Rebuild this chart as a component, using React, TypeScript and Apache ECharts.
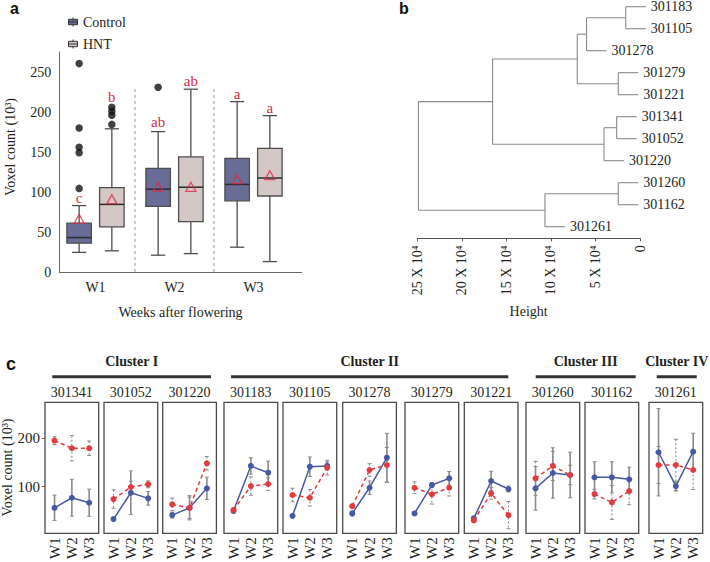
import React, { useEffect, useRef } from 'react';
import * as echarts from 'echarts';

const SERIF = '"Liberation Serif", "Times New Roman", serif';
const SANS = '"Liberation Sans", Arial, sans-serif';
const TXT = '#231f20';

// ---------------- Panel a: box plots ----------------
const weeks = ['W1', 'W2', 'W3'];
// [lower whisker, Q1, median, Q3, upper whisker]
const controlBox = [
  [24.5, 36, 43, 61, 83],
  [21, 82, 103.5, 129.5, 175.5],
  [31, 89, 109.5, 142, 213],
];
const hntBox = [
  [26.5, 56.5, 84.5, 105.5, 179],
  [23, 63, 106, 144, 228.5],
  [13, 95, 117.5, 154.5, 195.5],
];
const controlMean = [66.5, 106.5, 116];
const hntMean = [91, 106.5, 121];
const controlOutliers = [[260.5, 180, 156, 149, 104.5], [231], []];
const hntOutliers = [[206, 201, 196, 184.5], [], []];
const controlLetters = ['c', 'ab', 'a'];
const hntLetters = ['b', 'ab', 'a'];
const controlLetterY = [92, 188, 223];
const hntLetterY = [219, 239, 205];

// ---------------- Panel b: dendrogram ----------------
const leafLabels = ['301183', '301105', '301278', '301279', '301221', '301341', '301052', '301220', '301260', '301162', '301261'];
// hclust-style merge table: negative = leaf (1-based), positive = earlier merge (1-based)
const mergeLeft = [-1, 1, -4, 2, -6, 5, 4, -9, 8, 7];
const mergeRight = [-2, -3, -5, 3, -7, -8, 6, -10, -11, 9];
const mergeHeight = [1.6, 6.0, 2.44, 7.04, 2.62, 4.04, 16.55, 2.44, 10.67, 24.87]; // x 10^4
const hang = 2.25;

// ---------------- Panel c: line panels ----------------
const accessions = ['301341', '301052', '301220', '301183', '301105', '301278', '301279', '301221', '301260', '301162', '301261'];
const clusterNames = ['Cluster I', 'Cluster II', 'Cluster III', 'Cluster IV'];
const controlMeans = [
  [56.6, 77.3, 67], [33.3, 87.6, 76], [41.5, 56.6, 96.7], [50.4, 142.8, 128.9],
  [40, 141.3, 142.8], [45, 97.9, 160], [45, 103.5, 117.3], [34.7, 111.8, 95.2],
  [96.7, 128.3, 124.2], [119.4, 119.4, 115.3], [171.1, 101.4, 172.3],
];
const controlErr = [
  [26, 38, 28], [3, 45, 14], [6, 25, 23], [5, 17, 24], [3, 20, 8], [5, 14, 50],
  [3, 5, 14], [4, 20, 6], [45, 52, 47], [32, 32, 25], [90, 10, 38],
];
const hntMeans = [
  [195, 179.3, 179.3], [74.6, 99.4, 105], [63.6, 56.6, 148.3], [52, 101.4, 105.6],
  [82.9, 77.3, 139.3], [60, 134.5, 144.8], [97.9, 84.3, 97.9], [30.6, 86.3, 41.5],
  [117.3, 142.8, 124.2], [84.9, 67.7, 91], [144.8, 144.8, 134.5],
];
const hntErr = [
  [8, 26, 15], [19, 12, 7], [13, 22, 14], [4, 19, 13], [14, 17, 15], [3, 13, 36],
  [12, 20, 17], [3, 12, 28], [35, 30, 20], [10, 35, 28], [38, 53, 40],
];

// ---------------- layout ----------------
const panelLeft = [45, 104, 162.7, 224, 283, 342.7, 405, 464.3, 526, 585, 649];
const PW = 53.7, PT = 402.3, PH = 131;
const clusterBars = [[52.3, 211], [231, 508.3], [535.7, 635.7], [656.7, 696.7]];
const OFF = 0.207, BOX_W = 0.31;
const CTRL_FILL = '#686c96', HNT_FILL = '#d4c8c7', RED = '#dc2a44';
const BLUE = '#4759a5', RED2 = '#e23b3f';

function buildDendro() {
  const nodeY: number[] = [];
  const segs: number[][] = [];
  const leafEnd: number[] = new Array(leafLabels.length).fill(0);
  const info = (c: number, H: number) => {
    if (c < 0) {
      const idx = -c - 1;
      leafEnd[idx] = H - hang;
      return { y: idx, h: H - hang };
    }
    return { y: nodeY[c - 1], h: mergeHeight[c - 1] };
  };
  mergeHeight.forEach((H, k) => {
    const a = info(mergeLeft[k], H);
    const b = info(mergeRight[k], H);
    nodeY[k] = (a.y + b.y) / 2;
    segs.push([a.h, a.y, H, a.y]);
    segs.push([b.h, b.y, H, b.y]);
    segs.push([H, a.y, H, b.y]);
  });
  return { segs, leafEnd };
}

function buildOption() {
  const { segs, leafEnd } = buildDendro();
  const grid: any[] = [
    { left: 59.3, top: 52, width: 242.4, height: 220 },
    { left: 417.3, top: 6.7, width: 222.7, height: 231.6 },
  ];
  const xAxis: any[] = [
    {
      gridIndex: 0, type: 'value', min: 0.542, max: 3.61,
      axisLine: { show: true, onZero: false, lineStyle: { color: '#666', width: 1 } },
      axisTick: { show: false }, splitLine: { show: false },
      axisLabel: { customValues: [1, 2, 3], formatter: (v: number) => weeks[Math.round(v) - 1] || '', fontSize: 14, fontFamily: SERIF, color: TXT, margin: 8 },
      name: 'Weeks after flowering', nameLocation: 'middle', nameGap: 33,
      nameTextStyle: { fontSize: 14, fontFamily: SERIF, color: TXT },
    },
    {
      gridIndex: 1, type: 'value', inverse: true, min: 0, max: 25, interval: 5, position: 'bottom',
      axisLine: { show: true, onZero: false, lineStyle: { color: '#555', width: 1 } },
      axisTick: { show: true, length: 3, lineStyle: { color: '#555' } }, splitLine: { show: false },
      axisLabel: { rotate: 90, formatter: (v: number) => (v === 0 ? '0' : v + ' X 10\u2074'), fontSize: 14, fontFamily: SERIF, color: TXT, margin: 7 },
      name: 'Height', nameLocation: 'middle', nameGap: 66,
      nameTextStyle: { fontSize: 14, fontFamily: SERIF, color: TXT },
    },
  ];
  const yAxis: any[] = [
    {
      gridIndex: 0, type: 'value', min: 0, max: 275, interval: 50,
      axisLine: { show: true, onZero: false, lineStyle: { color: '#666', width: 1 } },
      axisTick: { show: false }, splitLine: { show: false },
      axisLabel: { fontSize: 14, fontFamily: SERIF, color: TXT, margin: 8, showMaxLabel: false },
    },
    { gridIndex: 1, type: 'value', inverse: true, min: 0, max: 10.527, show: false },
  ];
  const series: any[] = [];

  // panel a
  series.push({
    type: 'custom', name: 'sep', xAxisIndex: 0, yAxisIndex: 0, silent: true, z: 1,
    data: [[1.5, 0, 232], [2.5, 0, 232]],
    renderItem: (p: any, api: any) => {
      const a = api.coord([api.value(0), api.value(1)]);
      const b = api.coord([api.value(0), api.value(2)]);
      return { type: 'line', shape: { x1: a[0], y1: a[1], x2: b[0], y2: b[1] }, style: { stroke: '#9a9a9a', lineWidth: 1, lineDash: [3, 3] } };
    },
  });
  const boxRender = (fill: string) => (p: any, api: any) => {
    const x = api.value(0);
    const c = (v: number) => api.coord([x, v]);
    const lo = c(api.value(1)), q1 = c(api.value(2)), md = c(api.value(3)), q3 = c(api.value(4)), hi = c(api.value(5));
    const w = api.size([BOX_W, 0])[0];
    const cw = w * 0.58;
    const cx = lo[0];
    const ls = { stroke: '#4d4d4d', lineWidth: 1.3 };
    return {
      type: 'group', children: [
        { type: 'line', shape: { x1: cx, y1: hi[1], x2: cx, y2: q3[1] }, style: ls },
        { type: 'line', shape: { x1: cx, y1: q1[1], x2: cx, y2: lo[1] }, style: ls },
        { type: 'line', shape: { x1: cx - cw / 2, y1: hi[1], x2: cx + cw / 2, y2: hi[1] }, style: ls },
        { type: 'line', shape: { x1: cx - cw / 2, y1: lo[1], x2: cx + cw / 2, y2: lo[1] }, style: ls },
        { type: 'rect', shape: { x: cx - w / 2, y: q3[1], width: w, height: q1[1] - q3[1] }, style: { fill, stroke: '#4d4d4d', lineWidth: 1.3 } },
        { type: 'line', shape: { x1: cx - w / 2, y1: md[1], x2: cx + w / 2, y2: md[1] }, style: { stroke: '#2b2b2b', lineWidth: 1.5 } },
      ],
    };
  };
  series.push({
    type: 'custom', name: 'Control', xAxisIndex: 0, yAxisIndex: 0, z: 2,
    itemStyle: { color: CTRL_FILL },
    encode: { x: 0, y: [1, 2, 3, 4, 5] },
    data: controlBox.map((b, i) => [i + 1 - OFF, ...b]),
    renderItem: boxRender(CTRL_FILL),
  });
  series.push({
    type: 'custom', name: 'HNT', xAxisIndex: 0, yAxisIndex: 0, z: 2,
    itemStyle: { color: HNT_FILL },
    encode: { x: 0, y: [1, 2, 3, 4, 5] },
    data: hntBox.map((b, i) => [i + 1 + OFF, ...b]),
    renderItem: boxRender(HNT_FILL),
  });
  const outl: number[][] = [];
  controlOutliers.forEach((arr, i) => arr.forEach((v) => outl.push([i + 1 - OFF, v])));
  hntOutliers.forEach((arr, i) => arr.forEach((v) => outl.push([i + 1 + OFF, v])));
  series.push({
    type: 'scatter', name: 'outliers', xAxisIndex: 0, yAxisIndex: 0, z: 3,
    symbolSize: 7.5, itemStyle: { color: '#111' }, data: outl,
  });
  series.push({
    type: 'scatter', name: 'means', xAxisIndex: 0, yAxisIndex: 0, z: 4,
    symbol: 'triangle', symbolSize: [10, 9],
    itemStyle: { color: 'rgba(0,0,0,0)', borderColor: RED, borderWidth: 1.3 },
    data: [
      ...controlMean.map((v, i) => [i + 1 - OFF, v]),
      ...hntMean.map((v, i) => [i + 1 + OFF, v]),
    ],
  });
  const letters = [...controlLetters, ...hntLetters];
  series.push({
    type: 'custom', name: 'letters', xAxisIndex: 0, yAxisIndex: 0, z: 5,
    data: [
      ...controlLetterY.map((v, i) => [i + 1 - OFF, v]),
      ...hntLetterY.map((v, i) => [i + 1 + OFF, v]),
    ],
    renderItem: (p: any, api: any) => {
      const pt = api.coord([api.value(0), api.value(1)]);
      return { type: 'text', x: pt[0], y: pt[1], style: { text: letters[p.dataIndex], fill: RED, font: `15px ${SERIF}`, align: 'center', verticalAlign: 'middle' } };
    },
  });

  // panel b
  series.push({
    type: 'custom', name: 'dendro', xAxisIndex: 1, yAxisIndex: 1, silent: true,
    encode: { x: [0, 2], y: [1, 3] },
    data: segs,
    renderItem: (p: any, api: any) => {
      const a = api.coord([api.value(0), api.value(1)]);
      const b = api.coord([api.value(2), api.value(3)]);
      return { type: 'line', shape: { x1: a[0], y1: a[1], x2: b[0], y2: b[1] }, style: { stroke: '#8a8a8a', lineWidth: 1.1 } };
    },
  });
  series.push({
    type: 'custom', name: 'leaves', xAxisIndex: 1, yAxisIndex: 1, silent: true,
    data: leafEnd.map((h, i) => [h, i]),
    renderItem: (p: any, api: any) => {
      const pt = api.coord([api.value(0), api.value(1)]);
      return { type: 'text', x: pt[0] + 5, y: pt[1], style: { text: leafLabels[p.dataIndex], fill: TXT, font: `14px ${SERIF}`, align: 'left', verticalAlign: 'middle' } };
    },
  });

  // panel c
  const errRender = (dashed: boolean) => (p: any, api: any) => {
    const x = api.value(0), m = api.value(1), e = api.value(2);
    const t = api.coord([x, m + e]), b = api.coord([x, m - e]);
    const cap = 2;
    const st = { stroke: '#8a8a8a', lineWidth: dashed ? 1.1 : 1.6, lineDash: dashed ? [2, 2] : null };
    const cs = { stroke: '#8a8a8a', lineWidth: 1 };
    return {
      type: 'group', children: [
        { type: 'line', shape: { x1: t[0], y1: t[1], x2: b[0], y2: b[1] }, style: st },
        { type: 'line', shape: { x1: t[0] - cap, y1: t[1], x2: t[0] + cap, y2: t[1] }, style: cs },
        { type: 'line', shape: { x1: b[0] - cap, y1: b[1], x2: b[0] + cap, y2: b[1] }, style: cs },
      ],
    };
  };
  accessions.forEach((acc, i) => {
    const gi = 2 + i;
    grid.push({ left: panelLeft[i], top: PT, width: PW, height: PH, show: true, borderColor: '#4a4a4a', borderWidth: 1.3, backgroundColor: 'transparent' });
    xAxis.push({
      gridIndex: gi, type: 'value', min: 0.45, max: 3.55,
      axisLine: { show: false, onZero: false }, axisTick: { show: false }, splitLine: { show: false },
      axisLabel: { customValues: [1, 2, 3], rotate: 90, formatter: (v: number) => weeks[Math.round(v) - 1] || '', fontSize: 15, fontFamily: SERIF, color: TXT, margin: 4 },
    });
    yAxis.push({
      gridIndex: gi, type: 'value', min: 4, max: 274,
      axisLine: { show: false, onZero: false }, splitLine: { show: false },
      axisTick: { show: i === 0, customValues: [100, 200], length: 3, lineStyle: { color: '#555' } },
      axisLabel: { show: i === 0, customValues: [100, 200], fontSize: 15, fontFamily: SERIF, color: TXT, margin: 5 },
    });
    series.push({
      type: 'custom', name: 'errC' + i, xAxisIndex: gi, yAxisIndex: gi, z: 1, silent: true,
      data: controlMeans[i].map((m, k) => [k + 1, m, controlErr[i][k]]),
      renderItem: errRender(false),
    });
    series.push({
      type: 'custom', name: 'errH' + i, xAxisIndex: gi, yAxisIndex: gi, z: 1, silent: true,
      data: hntMeans[i].map((m, k) => [k + 1, m, hntErr[i][k]]),
      renderItem: errRender(true),
    });
    series.push({
      type: 'line', name: 'ctrl' + i, xAxisIndex: gi, yAxisIndex: gi, z: 2,
      symbol: 'circle', symbolSize: 6, color: BLUE,
      lineStyle: { color: BLUE, width: 1.5 }, itemStyle: { color: BLUE },
      data: controlMeans[i].map((m, k) => [k + 1, m]),
    });
    series.push({
      type: 'line', name: 'hnt' + i, xAxisIndex: gi, yAxisIndex: gi, z: 3,
      symbol: 'circle', symbolSize: 6, color: RED2,
      lineStyle: { color: RED2, width: 1.5, type: [4, 3] }, itemStyle: { color: RED2 },
      data: hntMeans[i].map((m, k) => [k + 1, m]),
    });
  });

  const graphic: any[] = [
    { type: 'text', x: 10, y: 8, style: { text: 'a', font: `bold 16px ${SANS}`, fill: '#111', verticalAlign: 'middle' } },
    { type: 'text', x: 399, y: 8, style: { text: 'b', font: `bold 16px ${SANS}`, fill: '#111', verticalAlign: 'middle' } },
    { type: 'text', x: 6, y: 363.5, style: { text: 'c', font: `bold 18px ${SANS}`, fill: '#111', verticalAlign: 'middle' } },
    { type: 'text', x: 10, y: 147, rotation: Math.PI / 2, style: { text: 'Voxel count (10\u00b3)', font: `14px ${SERIF}`, fill: TXT, align: 'center', verticalAlign: 'middle' } },
    { type: 'text', x: 7.7, y: 467.5, rotation: Math.PI / 2, style: { text: 'Voxel count (10\u00b3)', font: `14px ${SERIF}`, fill: TXT, align: 'center', verticalAlign: 'middle' } },
  ];
  accessions.forEach((acc, i) => {
    graphic.push({ type: 'text', x: panelLeft[i] + PW / 2, y: 392.7, style: { text: acc, font: `14px ${SERIF}`, fill: TXT, align: 'center', verticalAlign: 'middle' } });
  });
  clusterNames.forEach((nm, i) => {
    const [x1, x2] = clusterBars[i];
    graphic.push({ type: 'rect', shape: { x: x1, y: 375.2, width: x2 - x1, height: 3 }, style: { fill: '#333' } });
    graphic.push({ type: 'text', x: (x1 + x2) / 2, y: 361.7, style: { text: nm, font: `bold 14px ${SERIF}`, fill: TXT, align: 'center', verticalAlign: 'middle' } });
  });

  return {
    animation: false,
    backgroundColor: '#ffffff',
    legend: {
      data: ['Control', 'HNT'], orient: 'vertical', left: 63, top: 10,
      itemWidth: 10, itemHeight: 9, itemGap: 8,
      icon: 'path://M0,2H10V8H0Z M0,5H10 M5,0V2 M5,8V10',
      itemStyle: { borderColor: '#333', borderWidth: 1 },
      textStyle: { fontSize: 14, fontFamily: SERIF, color: TXT },
      selectedMode: false,
    },
    grid, xAxis, yAxis, series, graphic,
  };
}

export default function App() {
  const ref = useRef<HTMLDivElement>(null);
  useEffect(() => {
    const chart = echarts.init(ref.current as HTMLDivElement, null, { renderer: 'svg' });
    chart.setOption(buildOption() as any);
    return () => chart.dispose();
  }, []);
  return <div ref={ref} style={{ position: 'fixed', left: 0, top: 0, width: 710, height: 562 }} />;
}
